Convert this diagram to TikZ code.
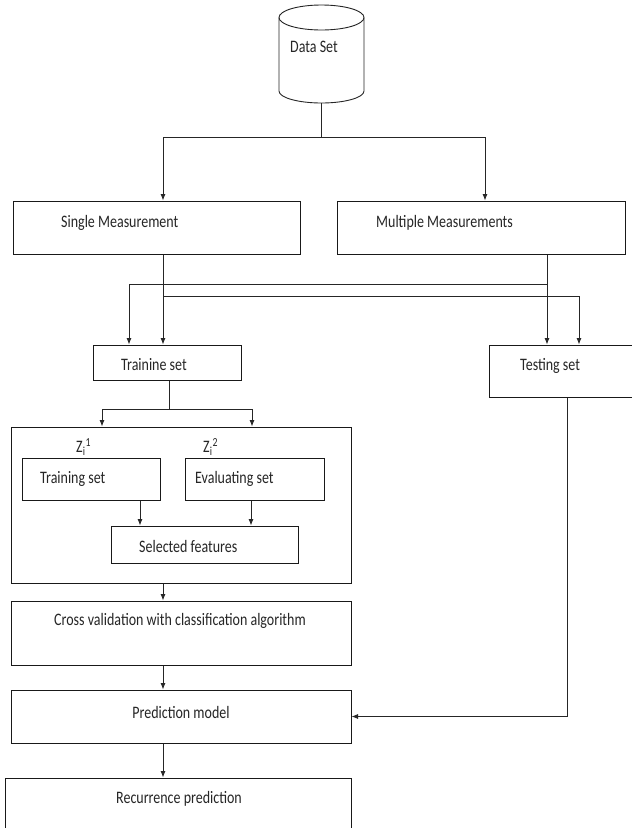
\documentclass[tikz,border=0pt]{standalone}
\usepackage{fontspec}
\setmainfont{Carlito}[FakeStretch=0.8]
\usetikzlibrary{arrows.meta}
\begin{document}
\begin{tikzpicture}[x=1pt,y=1pt,
  box/.style={draw=black!90, line width=1pt, inner sep=0pt, rectangle},
  lbl/.style={inner sep=0pt, font=\fontsize{17.5}{19}\selectfont, text=black!85},
  conn/.style={draw=black!85, line width=0.8pt},
  arr/.style={conn, -{Latex[length=6.5pt,width=5pt]}}]
\clip (0,0) rectangle (632,-828);
\useasboundingbox (0,0) rectangle (632,-828);
\fill[white] (0,0) rectangle (632,-828);

% Data set cylinder
\draw[conn, line width=0.9pt] (321.5,-17.5) ellipse [x radius=42.5, y radius=12.5];
\draw[conn, line width=0.9pt] (279,-17.5) -- (279,-91)
  arc[start angle=180, end angle=360, x radius=42.5, y radius=12] -- (364,-17.5);
\node[inner sep=0pt, minimum width=85pt, minimum height=98pt] (ds) at (321.5,-54) {};
\node[lbl, anchor=west] (dst) at (290,-47) {Data Set};

% boxes
\node[box, minimum width=287pt, minimum height=53pt] (single) at (156.5,-227.5) {};
\node[lbl, anchor=west] (singlet) at (61,-223) {Single Measurement};
\node[box, minimum width=288pt, minimum height=53pt] (multi) at (481,-227.5) {};
\node[lbl, anchor=west] (multit) at (376,-223) {Multiple Measurements};

\node[box, minimum width=148pt, minimum height=35pt] (train) at (167,-362.5) {};
\node[lbl, anchor=west] (traint) at (121,-365) {Trainine set};
\node[box, minimum width=160pt, minimum height=52pt] (test) at (569,-371) {};
\node[lbl, anchor=west] (testt) at (520,-366) {Testing set};

\node[box, minimum width=340pt, minimum height=156pt] (outer) at (181,-505) {};
\node[lbl, anchor=west] (z1) at (76,-447) {Z\textsubscript{i}\textsuperscript{1}};
\node[lbl, anchor=west] (z2) at (203,-447) {Z\textsubscript{i}\textsuperscript{2}};
\node[box, minimum width=138pt, minimum height=42pt] (itrain) at (91,-479) {};
\node[lbl, anchor=west] (itraint) at (40,-479) {Training set};
\node[box, minimum width=139pt, minimum height=42pt] (eval) at (254.5,-479) {};
\node[lbl, anchor=west] (evalt) at (195,-479) {Evaluating set};
\node[box, minimum width=187pt, minimum height=37pt] (sel) at (204.5,-544.5) {};
\node[lbl, anchor=west] (selt) at (139,-546) {Selected features};

\node[box, minimum width=340pt, minimum height=64pt] (cv) at (181,-633) {};
\node[lbl] (cvt) at (180,-621) {Cross validation with classification algorithm};
\node[box, minimum width=340pt, minimum height=53pt] (pm) at (181,-716.5) {};
\node[lbl] (pmt) at (181,-712) {Prediction model};
\node[box, minimum width=346pt, minimum height=62pt] (rp) at (178,-809) {};
\node[lbl] (rpt) at (179,-799) {Recurrence prediction};

% helper coordinates
\coordinate (jA) at (321.5,-137);
\coordinate (xS) at (163,0);
\coordinate (xM) at (485,0);
\coordinate (xT1) at (129,0);
\coordinate (xT2) at (163,0);
\coordinate (xE1) at (547,0);
\coordinate (xE2) at (579,0);
\coordinate (yH1) at (0,-284);
\coordinate (yH2) at (0,-296);
\coordinate (jB) at (169,-409);
\coordinate (xO1) at (102,0);
\coordinate (xO2) at (252,0);
\coordinate (xI1) at (140,0);
\coordinate (xI2) at (251,0);
\coordinate (xC) at (163,0);
\coordinate (xTe) at (567,0);

% connectors
\draw[conn] (ds.south) -- (jA);
\draw[arr] (jA) -- (jA -| xS) -- (single.north -| xS);
\draw[arr] (jA) -- (jA -| xM) -- (multi.north -| xM);

\draw[arr] (single.south -| xT2) -- (train.north -| xT2);
\draw[arr] (yH2 -| xT2) -- (yH2 -| xE2) -- (test.north -| xE2);
\draw[arr] (multi.south -| xE1) -- (test.north -| xE1);
\draw[arr] (yH1 -| xE1) -- (yH1 -| xT1) -- (train.north -| xT1);

\draw[conn] (train.south -| jB) -- (jB);
\draw[arr] (jB) -- (jB -| xO1) -- (outer.north -| xO1);
\draw[arr] (jB) -- (jB -| xO2) -- (outer.north -| xO2);

\draw[arr] (itrain.south -| xI1) -- (sel.north -| xI1);
\draw[arr] (eval.south -| xI2) -- (sel.north -| xI2);

\draw[arr] (outer.south -| xC) -- (cv.north -| xC);
\draw[arr] (cv.south -| xC) -- (pm.north -| xC);
\draw[arr] (pm.south -| xC) -- (rp.north -| xC);
\draw[arr] (test.south -| xTe) -- (pm.east -| xTe) |- (pm.east);
\end{tikzpicture}
\end{document}
